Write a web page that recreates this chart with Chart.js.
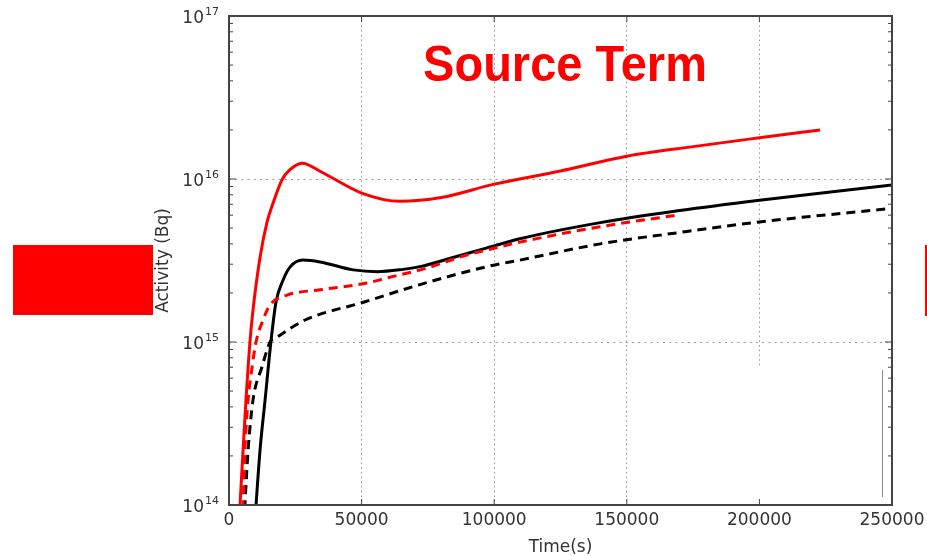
<!DOCTYPE html>
<html>
<head>
<meta charset="utf-8">
<script src="https://cdn.jsdelivr.net/npm/chart.js@4/dist/chart.umd.min.js"></script>
<style>
  html, body { margin: 0; padding: 0; background: #fff; }
  #wrap { position: relative; width: 927px; height: 556px; }
  canvas { display: block; }
</style>
</head>
<body>
<div id="wrap"><canvas id="c" width="927" height="556"></canvas></div>
<script>
// ---- data (time in s, activity in Bq) ----
const timeRedSolid = [3000, 4150, 5300, 6400, 7900, 9050, 11700, 14300, 16600, 20000, 23000, 27500, 35000, 50000, 64500, 80000, 100000, 125000, 150000, 175000, 200000, 222900];
const actRedSolid  = [5e13, 1e14, 2.17e14, 4.4e14, 1e15, 1.57e15, 3.3e15, 5.4e15, 7.1e15, 9.9e15, 1.14e16, 1.25e16, 1.1e16, 8.2e15, 7.3e15, 7.7e15, 9.3e15, 1.12e16, 1.38e16, 1.58e16, 1.79e16, 2.0e16];

const timeRedDash = [4300, 5300, 6000, 7200, 8700, 10200, 12800, 15500, 21900, 34300, 52000, 59500, 74500, 89700, 97300, 109700, 140000, 169000];
const actRedDash  = [5e13, 1e14, 2.17e14, 4.4e14, 7.0e14, 1e15, 1.36e15, 1.69e15, 1.94e15, 2.09e15, 2.3e15, 2.47e15, 2.84e15, 3.42e15, 3.67e15, 4.1e15, 5.1e15, 6.0e15];

const timeBlackSolid = [9000, 10200, 11700, 13600, 15800, 17700, 20400, 23000, 27900, 34300, 46800, 56000, 65000, 72000, 84500, 97300, 109700, 140000, 170000, 200000, 250000];
const actBlackSolid  = [5e13, 1e14, 2.17e14, 4.4e14, 1e15, 1.75e15, 2.4e15, 2.88e15, 3.18e15, 3.1e15, 2.77e15, 2.7e15, 2.78e15, 2.9e15, 3.3e15, 3.78e15, 4.3e15, 5.4e15, 6.4e15, 7.4e15, 9.2e15];

const timeBlackDash = [5000, 6000, 7200, 9050, 12400, 15500, 18100, 28500, 51000, 72000, 97300, 109700, 140000, 170000, 200000, 250000];
const actBlackDash  = [5e13, 1e14, 2.17e14, 4.4e14, 7.0e14, 1e15, 1.07e15, 1.36e15, 1.76e15, 2.25e15, 2.9e15, 3.18e15, 4.0e15, 4.7e15, 5.45e15, 6.6e15];

const xTickValues = [0, 50000, 100000, 150000, 200000, 250000];
const yTickExponents = [14, 15, 16, 17];

const titleText = 'Source Term';
const xTitle = 'Time(s)';
const yTitle = 'Activity (Bq)';

// ---- helpers ----
const pts = (xs, ys) => xs.map((x, i) => ({ x: x, y: ys[i] }));
const FONT = "'DejaVu Sans', sans-serif";
const TEXT = '#333333';

const series = [
  { label: 'red solid',   data: pts(timeRedSolid, actRedSolid),     borderColor: '#ff0000', borderDash: [] },
  { label: 'red dashed',  data: pts(timeRedDash, actRedDash),       borderColor: '#ff0000', borderDash: [9, 6] },
  { label: 'black solid', data: pts(timeBlackSolid, actBlackSolid), borderColor: '#000000', borderDash: [] },
  { label: 'black dashed',data: pts(timeBlackDash, actBlackDash),   borderColor: '#000000', borderDash: [9, 6] }
].map(s => Object.assign(s, {
  borderWidth: 3,
  pointRadius: 0,
  fill: false,
  cubicInterpolationMode: 'monotone',
  clip: 0
}));

const decorPlugin = {
  id: 'decor',
  afterDraw(chart) {
    const ctx = chart.ctx;
    const a = chart.chartArea;
    const xs = chart.scales.x, ys = chart.scales.y;
    ctx.save();

    // cover lower part of the 200000 gridline (as in the reference)
    const x200 = xs.getPixelForValue(200000);
    ctx.fillStyle = '#ffffff';
    ctx.fillRect(x200 - 2, 366, 4, a.bottom - 366 - 1);

    // thin grey vertical stroke near the right edge
    ctx.strokeStyle = '#8a8a8a';
    ctx.lineWidth = 1;
    ctx.beginPath();
    ctx.moveTo(882.5, 370); ctx.lineTo(882.5, 497);
    ctx.stroke();

    // frame
    ctx.strokeStyle = '#444444';
    ctx.lineWidth = 2;
    ctx.strokeRect(a.left, a.top, a.right - a.left, a.bottom - a.top);

    // y ticks (major + minor), both sides, pointing inward
    ctx.lineWidth = 1;
    yTickExponents.forEach((e, idx) => {
      const base = Math.pow(10, e);
      const yp = ys.getPixelForValue(base);
      ctx.beginPath();
      ctx.moveTo(a.left, yp); ctx.lineTo(a.left + 7, yp);
      ctx.moveTo(a.right, yp); ctx.lineTo(a.right - 7, yp);
      ctx.stroke();
      if (idx < yTickExponents.length - 1) {
        for (let m = 2; m <= 9; m++) {
          const y = ys.getPixelForValue(m * base);
          ctx.beginPath();
          ctx.moveTo(a.left, y); ctx.lineTo(a.left + 4, y);
          ctx.moveTo(a.right, y); ctx.lineTo(a.right - 4, y);
          ctx.stroke();
        }
      }
    });
    // x ticks top & bottom
    xTickValues.forEach(v => {
      const x = xs.getPixelForValue(v);
      ctx.beginPath();
      ctx.moveTo(x, a.bottom); ctx.lineTo(x, a.bottom - 6);
      ctx.moveTo(x, a.top); ctx.lineTo(x, a.top + 6);
      ctx.stroke();
    });

    // y tick labels 10^n
    ctx.fillStyle = TEXT;
    yTickExponents.forEach(e => {
      const yp = ys.getPixelForValue(Math.pow(10, e));
      ctx.font = '17px ' + FONT;
      ctx.textAlign = 'right';
      ctx.textBaseline = 'alphabetic';
      ctx.fillText('10', 204, yp + 6.5);
      ctx.font = '11px ' + FONT;
      ctx.textAlign = 'left';
      ctx.fillText(String(e), 205, yp - 1);
    });

    // chart title inside plot area
    ctx.fillStyle = '#ff0000';
    ctx.font = 'bold 47px "Liberation Sans", Arial, sans-serif';
    ctx.textAlign = 'center';
    ctx.textBaseline = 'alphabetic';
    ctx.translate(565, 81);
    ctx.scale(1, 1.07);
    ctx.fillText(titleText, 0, 0);
    ctx.setTransform(1, 0, 0, 1, 0, 0);

    // red decorations
    ctx.fillStyle = '#ff0000';
    ctx.fillRect(13, 245, 140, 70);
    ctx.fillRect(925, 245, 2, 71);
    ctx.restore();
  }
};

new Chart(document.getElementById('c'), {
  type: 'line',
  data: { datasets: series },
  options: {
    responsive: false,
    animation: false,
    devicePixelRatio: 1,
    layout: { padding: { left: 150, top: 16, right: 35, bottom: 0 } },
    plugins: { legend: { display: false }, tooltip: { enabled: false }, title: { display: false } },
    scales: {
      x: {
        type: 'linear',
        min: 0, max: 250000,
        afterBuildTicks: s => { s.ticks = xTickValues.map(v => ({ value: v })); },
        afterFit: s => { s.height = 51; s.paddingLeft = 0; s.paddingRight = 0; },
        ticks: {
          autoSkip: false, maxRotation: 0, padding: 5,
          font: { family: FONT, size: 17 }, color: TEXT,
          callback: v => String(v)
        },
        grid: {
          drawTicks: false, lineWidth: 1,
          color: c => (c.tick && (c.tick.value === 0 || c.tick.value === 250000)) ? 'rgba(0,0,0,0)' : '#9a9a9a'
        },
        border: { display: false, dash: [1.6, 3.1] },
        title: { display: true, text: xTitle, font: { family: FONT, size: 17 }, color: TEXT, padding: { top: 0, bottom: -2 } }
      },
      y: {
        type: 'logarithmic',
        min: 1e14, max: 1e17,
        afterBuildTicks: s => { s.ticks = yTickExponents.map(e => ({ value: Math.pow(10, e) })); },
        afterFit: s => { s.width = 79; s.paddingTop = 0; s.paddingBottom = 0; },
        ticks: { callback: () => '', font: { family: FONT, size: 17 } },
        grid: {
          drawTicks: false, lineWidth: 1,
          color: c => (c.tick && (c.tick.value === 1e14 || c.tick.value === 1e17)) ? 'rgba(0,0,0,0)' : '#9a9a9a'
        },
        border: { display: false, dash: [2, 4.2] },
        title: { display: true, text: yTitle, font: { family: FONT, size: 17 }, color: TEXT, padding: { top: 3, bottom: 0 } }
      }
    }
  },
  plugins: [decorPlugin]
});
</script>
</body>
</html>
